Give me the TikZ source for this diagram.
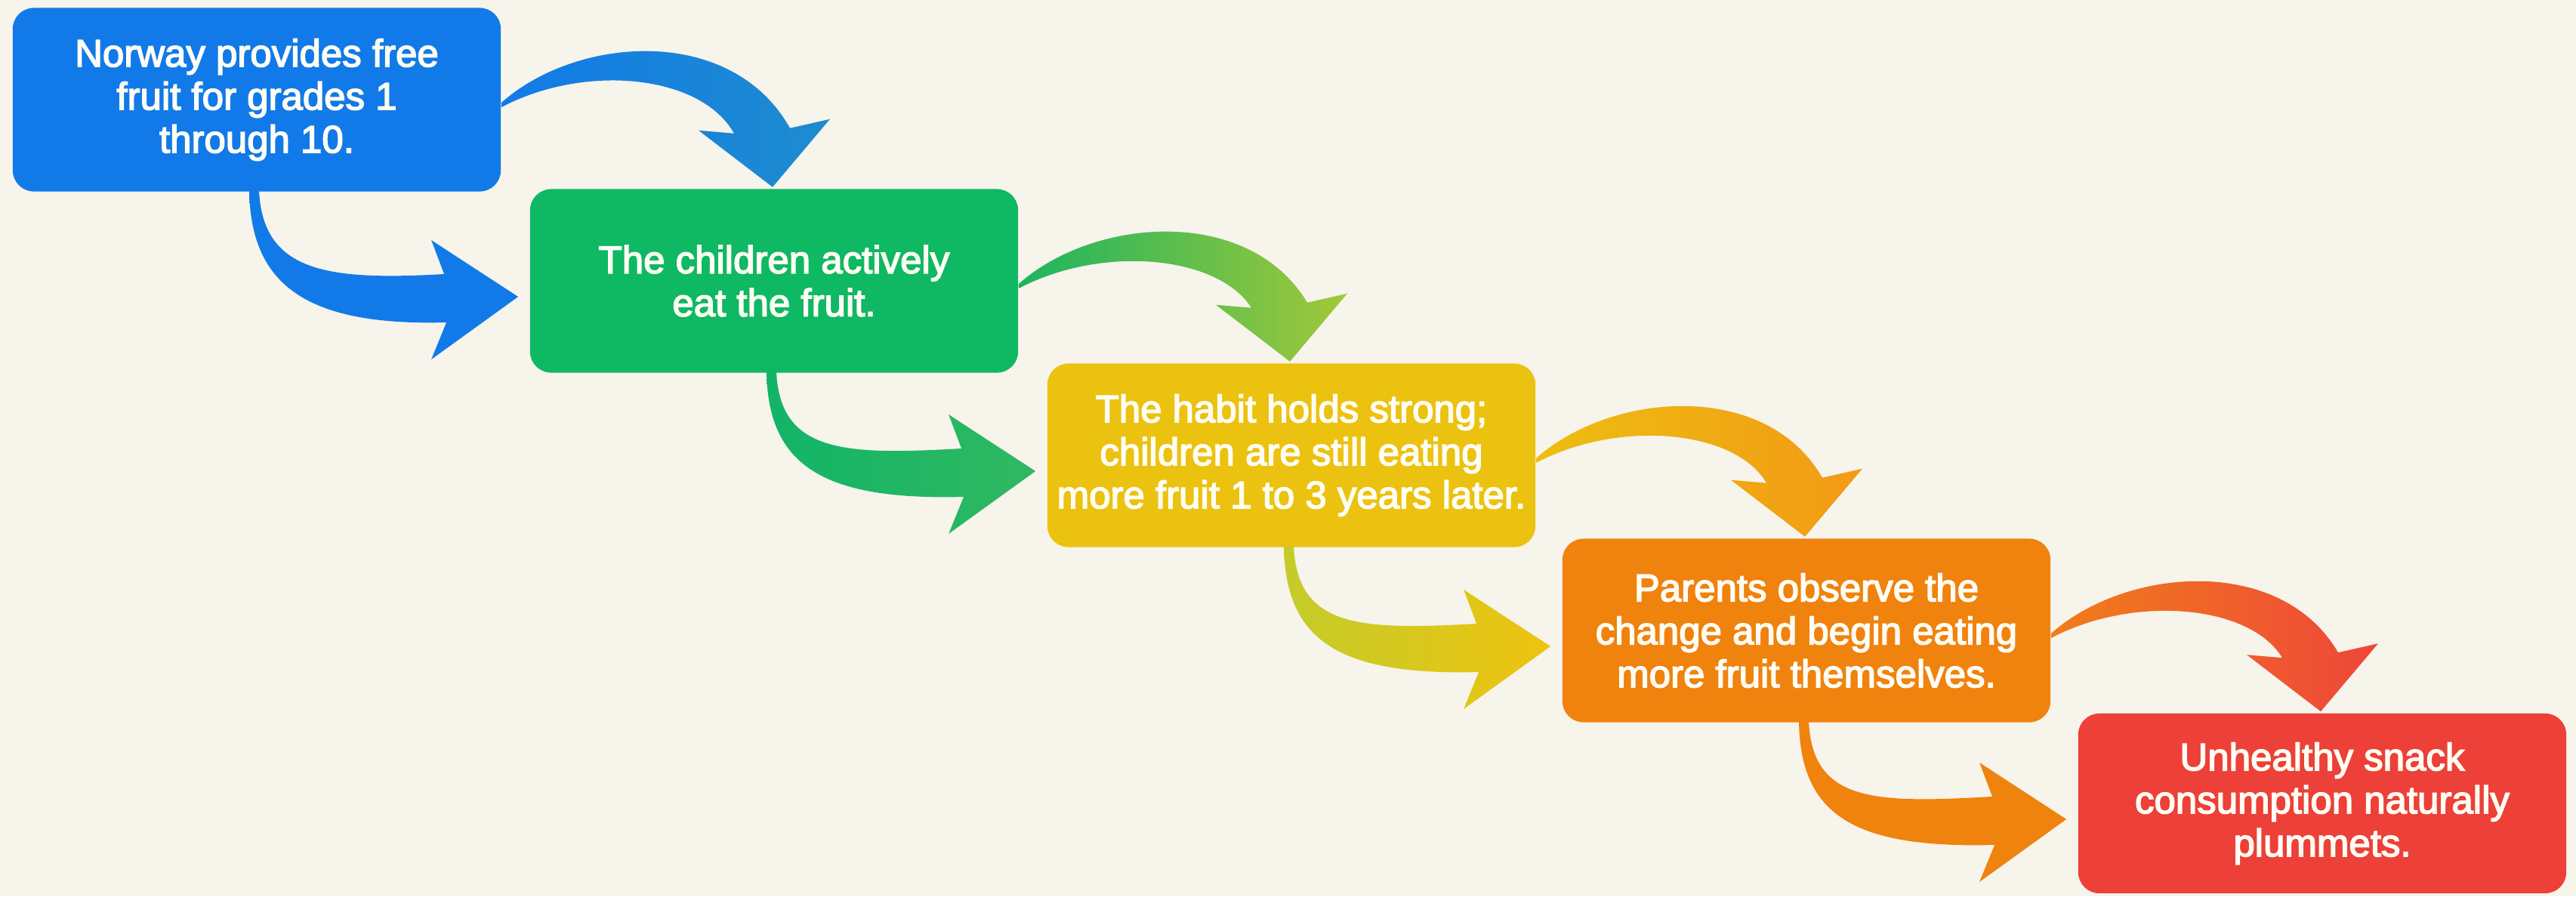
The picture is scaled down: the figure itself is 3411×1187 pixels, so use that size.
\documentclass[tikz,border=0pt]{standalone}
\usepackage{fontspec}
\setmainfont{Liberation Sans}
\newfontfamily\stagefont{Liberation Sans}[FakeBold=3]
\usetikzlibrary{calc}

\definecolor{paper}{HTML}{F6F4EB}
\definecolor{ink}{HTML}{FFFDF4}
\definecolor{cblue}{HTML}{127AE8}
\definecolor{cgreen}{HTML}{0FB863}
\definecolor{cyellow}{HTML}{ECC210}
\definecolor{corange}{HTML}{F0820E}
\definecolor{cred}{HTML}{EC4038}
% arrow shading stops
\definecolor{tealblue}{HTML}{1E8CCF}
\definecolor{leafA}{HTML}{1DB45F}
\definecolor{leafB}{HTML}{A2C83A}
\definecolor{goldA}{HTML}{EDBE12}
\definecolor{goldB}{HTML}{F39A14}
\definecolor{emberA}{HTML}{F07E1A}
\definecolor{emberB}{HTML}{EE463A}
\definecolor{mintA}{HTML}{12B468}
\definecolor{mintB}{HTML}{30B860}
\definecolor{limeA}{HTML}{C4CC2A}
\definecolor{limeB}{HTML}{EEC310}

\tikzset{
  stage/.style={rounded corners=0.28cm, minimum width=6.46cm, minimum height=2.43cm,
    inner sep=0pt, align=center, text=ink,
    font=\stagefont\fontsize{14.5}{16.2}\selectfont},
}

% curved arrow from the right side of one stage over to the top of the next
\newcommand\overarrow[4]{%
  \path[left color=#3, right color=#4]
    ($(#1.east)+(0,4)$) .. controls ($(#1.east)+(100,-85)$) and ($(#1.east)+(305,-100)$) .. ($(#2.north)+(21,-80)$)
    -- ($(#2.north)+(74,-92)$) -- ($(#2.north)+(-2,-2)$) -- ($(#2.north)+(-100,-77)$) -- ($(#2.north)+(-53,-73)$)
    .. controls ($(#1.east)+(264,-34)$) and ($(#1.east)+(110,-48)$) .. ($(#1.east)+(0,10)$) -- cycle;
}
% curved arrow from the bottom of one stage round to the left side of the next
\newcommand\underarrow[4]{%
  \path[left color=#3, right color=#4]
    ($(#1.south)+(-10,-2)$) .. controls ($(#1.south)+(-8,120)$) and ($(#2.west)+(-300,60)$) .. ($(#2.west)+(-110,55)$)
    -- ($(#2.west)+(-130,104)$) -- ($(#2.west)+(-15,21)$) -- ($(#2.west)+(-130,-54)$) -- ($(#2.west)+(-113,-9)$)
    .. controls ($(#2.west)+(-270,0)$) and ($(#1.south)+(8,105)$) .. ($(#1.south)+(3,-2)$) -- cycle;
}

\begin{document}
\begin{tikzpicture}[x=0.01cm, y=-0.01cm]
  \fill[paper] (0,0) rectangle (3411,1187);
  \useasboundingbox (0,0) rectangle (3411,1187);

  \node[stage, fill=cblue]   (b1) at (340,132)  {Norway provides free\\fruit for grades 1\\through 10.};
  \node[stage, fill=cgreen]  (b2) at (1025,372) {The children actively\\eat the fruit.};
  \node[stage, fill=cyellow] (b3) at (1710,603) {The habit holds strong;\\children are still eating\\more fruit 1 to 3 years later.};
  \node[stage, fill=corange] (b4) at (2392,835) {Parents observe the\\change and begin eating\\more fruit themselves.};
  \node[stage, fill=cred, minimum height=2.38cm] (b5) at (3075,1064) {Unhealthy snack\\consumption naturally\\plummets.};

  \overarrow{b1}{b2}{cblue}{tealblue}
  \overarrow{b2}{b3}{leafA}{leafB}
  \overarrow{b3}{b4}{goldA}{goldB}
  \overarrow{b4}{b5}{emberA}{emberB}

  \underarrow{b1}{b2}{cblue}{cblue}
  \underarrow{b2}{b3}{mintA}{mintB}
  \underarrow{b3}{b4}{limeA}{limeB}
  \underarrow{b4}{b5}{corange}{corange}
\end{tikzpicture}
\end{document}
